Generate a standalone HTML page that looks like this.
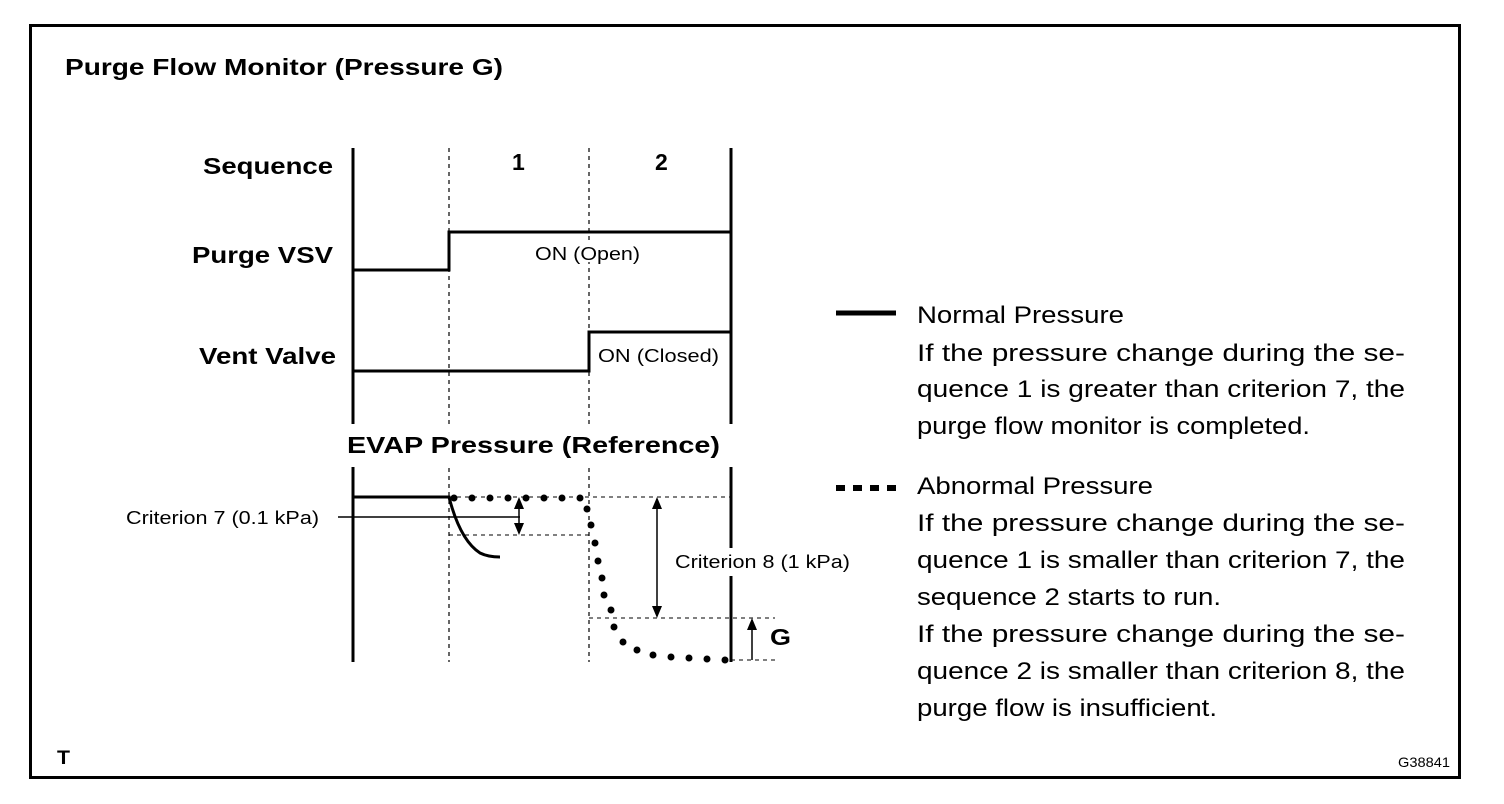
<!DOCTYPE html>
<html><head><meta charset="utf-8"><style>
html,body{margin:0;padding:0;background:#fff}
svg{display:block}
text{font-family:"Liberation Sans",Arial,sans-serif;fill:#000}
</style></head><body>
<svg width="1504" height="804" viewBox="0 0 1504 804" xmlns="http://www.w3.org/2000/svg">
<rect x="30.5" y="25.5" width="1429" height="752" fill="none" stroke="#000" stroke-width="3"/>
<text x="65" y="75" font-size="23" font-weight="bold" textLength="438" lengthAdjust="spacingAndGlyphs">Purge Flow Monitor (Pressure G)</text>
<text x="203" y="174" font-size="23" font-weight="bold" textLength="130" lengthAdjust="spacingAndGlyphs">Sequence</text>
<text x="192" y="263" font-size="23" font-weight="bold" textLength="141" lengthAdjust="spacingAndGlyphs">Purge VSV</text>
<text x="199" y="364" font-size="23" font-weight="bold" textLength="137" lengthAdjust="spacingAndGlyphs">Vent Valve</text>
<text x="512" y="170" font-size="23" font-weight="bold">1</text>
<text x="655" y="170" font-size="23" font-weight="bold">2</text>
<g stroke="#000" fill="none">
<path d="M449 148V662M589 148V662" stroke-width="1.2" stroke-dasharray="4,4"/>
<path d="M353 148V424M353 467V662M731 148V424M731 467V662" stroke-width="3"/>
<path d="M353 270H449V232H731M353 371H589V332H731" stroke-width="3"/>
<path d="M353 497H449Q460 540 480 553Q488 557 500 557" stroke-width="3"/>
<path d="M338 517H520" stroke-width="1.5"/>
<path d="M449 497H731M449 535H589M589 618H775M731 660H775" stroke-width="1" stroke-dasharray="4,4"/>
<path d="M519 503V529M657 503V612M752 624V660" stroke-width="1.5"/>
</g>
<rect x="340" y="428" width="385" height="36" fill="#fff"/>
<text x="347" y="453" font-size="23" font-weight="bold" textLength="373" lengthAdjust="spacingAndGlyphs">EVAP Pressure (Reference)</text>
<rect x="532" y="240" width="112" height="22" fill="#fff"/>
<rect x="595" y="343" width="127" height="22" fill="#fff"/>
<rect x="672" y="548" width="180" height="28" fill="#fff"/>
<g fill="#000">
<path d="M519 497l-5 12h10zM519 535l-5 -12h10zM657 497l-5 12h10zM657 618l-5 -12h10zM752 618l-5 12h10z"/>
</g>
<g fill="#000">
<circle cx="454" cy="498" r="3.5"/><circle cx="472" cy="498" r="3.5"/><circle cx="490" cy="498" r="3.5"/><circle cx="508" cy="498" r="3.5"/><circle cx="526" cy="498" r="3.5"/><circle cx="544" cy="498" r="3.5"/><circle cx="562" cy="498" r="3.5"/><circle cx="580" cy="498" r="3.5"/>
<circle cx="587" cy="509" r="3.5"/><circle cx="591" cy="525" r="3.5"/><circle cx="595" cy="543" r="3.5"/><circle cx="598" cy="561" r="3.5"/><circle cx="602" cy="578" r="3.5"/><circle cx="604" cy="595" r="3.5"/><circle cx="611" cy="610" r="3.5"/><circle cx="614" cy="627" r="3.5"/><circle cx="623" cy="642" r="3.5"/><circle cx="637" cy="650" r="3.5"/><circle cx="653" cy="655" r="3.5"/><circle cx="671" cy="657" r="3.5"/><circle cx="689" cy="658" r="3.5"/><circle cx="707" cy="659" r="3.5"/><circle cx="725" cy="660" r="3.5"/>
</g>
<text x="535" y="260" font-size="18" textLength="105" lengthAdjust="spacingAndGlyphs">ON (Open)</text>
<text x="598" y="362" font-size="18" textLength="121" lengthAdjust="spacingAndGlyphs">ON (Closed)</text>
<text x="126" y="524" font-size="18" textLength="193" lengthAdjust="spacingAndGlyphs">Criterion 7 (0.1 kPa)</text>
<text x="675" y="568" font-size="18" textLength="175" lengthAdjust="spacingAndGlyphs">Criterion 8 (1 kPa)</text>
<text x="770" y="645" font-size="23" font-weight="bold" textLength="21" lengthAdjust="spacingAndGlyphs">G</text>
<path d="M836 313H896" stroke="#000" stroke-width="5"/>
<path d="M836 488H896" stroke="#000" stroke-width="6" stroke-dasharray="9,8"/>
<g font-size="24.5">
<text x="917" y="323" textLength="207" lengthAdjust="spacingAndGlyphs">Normal Pressure</text>
<text x="917" y="361" textLength="488" lengthAdjust="spacingAndGlyphs">If the pressure change during the se-</text>
<text x="917" y="397" textLength="488" lengthAdjust="spacingAndGlyphs">quence 1 is greater than criterion 7, the</text>
<text x="917" y="434" textLength="393" lengthAdjust="spacingAndGlyphs">purge flow monitor is completed.</text>
<text x="917" y="494" textLength="236" lengthAdjust="spacingAndGlyphs">Abnormal Pressure</text>
<text x="917" y="531" textLength="488" lengthAdjust="spacingAndGlyphs">If the pressure change during the se-</text>
<text x="917" y="568" textLength="488" lengthAdjust="spacingAndGlyphs">quence 1 is smaller than criterion 7, the</text>
<text x="917" y="605" textLength="304" lengthAdjust="spacingAndGlyphs">sequence 2 starts to run.</text>
<text x="917" y="642" textLength="488" lengthAdjust="spacingAndGlyphs">If the pressure change during the se-</text>
<text x="917" y="679" textLength="488" lengthAdjust="spacingAndGlyphs">quence 2 is smaller than criterion 8, the</text>
<text x="917" y="716" textLength="300" lengthAdjust="spacingAndGlyphs">purge flow is insufficient.</text>
</g>
<text x="57" y="764" font-size="19" font-weight="bold" textLength="13" lengthAdjust="spacingAndGlyphs">T</text>
<text x="1398" y="767" font-size="14" textLength="52" lengthAdjust="spacingAndGlyphs">G38841</text>
</svg>
</body></html>
